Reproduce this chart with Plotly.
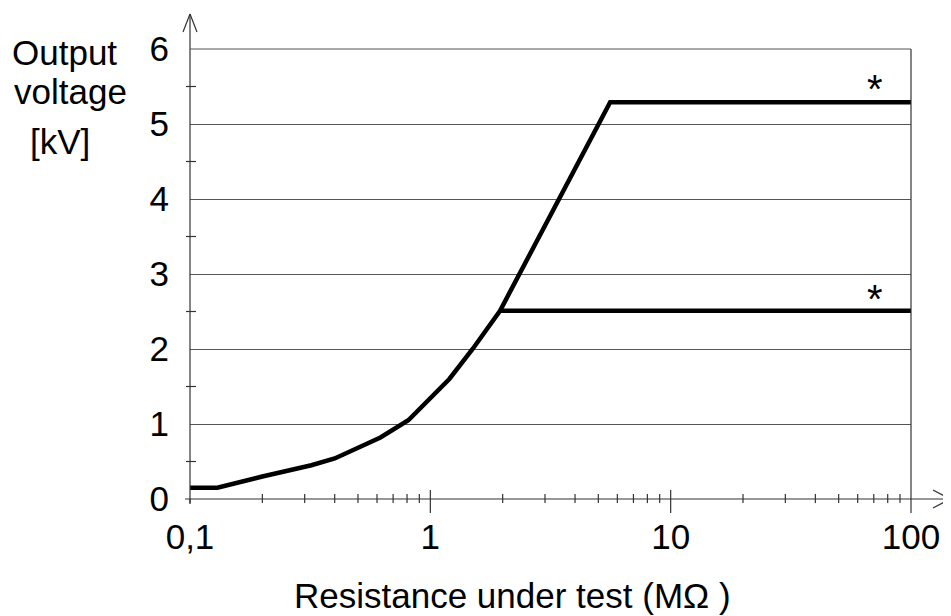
import numpy as np
import plotly.graph_objects as go

# ---- data ----
r_main = [0.1, 0.13, 0.2, 0.32, 0.4, 0.62, 0.81, 1.0, 1.2, 1.5, 1.8, 1.95, 5.6, 100]
v_main = [0.15, 0.15, 0.30, 0.45, 0.54, 0.82, 1.05, 1.35, 1.6, 2.0, 2.35, 2.51, 5.29, 5.29]
r_branch = [1.95, 100]
v_branch = [2.51, 2.51]
star_r = [71, 71]
star_v = [5.47, 2.67]

x_tickvals = [0.1, 1, 10, 100]
x_ticktext = ["0,1", "1", "10", "100"]
y_tickvals = [0, 1, 2, 3, 4, 5, 6]
y_ticktext = ["0", "1", "2", "3", "4", "5", "6"]
y_minor = [0.5, 1.5, 2.5, 3.5, 4.5, 5.5]
x_minor = [m * d for d in (0.1, 1, 10) for m in range(2, 10)]

FONT = "Liberation Sans, Arial, sans-serif"
FS = 35
# page has an 8px body margin; figure sized so the plot lands where the reference has it
W, H = 943, 608
L, R, T, B = 182, 40, 41, 117
PW, PH = W - L - R, H - T - B

# convert page pixel positions (reference picture) to paper coordinates
def px(xp):
    return (xp - 190) / PW

def py(yp):
    return (499 - yp) / PH

fig = go.Figure()
fig.add_trace(go.Scatter(x=r_main, y=v_main, mode="lines",
                         line=dict(color="black", width=4.5), showlegend=False))
fig.add_trace(go.Scatter(x=r_branch, y=v_branch, mode="lines",
                         line=dict(color="black", width=4.5), showlegend=False))

AX = "#333333"
shapes = []
def seg(x0, y0, x1, y1, color=AX, w=1.2):
    shapes.append(dict(type="line", xref="paper", yref="paper",
                       x0=x0, y0=y0, x1=x1, y1=y1,
                       line=dict(color=color, width=w)))

# y axis with arrow
seg(0, py(503), 0, py(14))
seg(px(183), py(32), 0, py(14))
seg(px(197), py(32), 0, py(14))
# x axis with arrow
seg(px(185), 0, px(950), 0)
seg(px(933), py(490), px(950), 0)
seg(px(933), py(508), px(950), 0)
# right border
seg(1, py(513), 1, 1)
# top line
seg(0, 1, 1, 1, color="#555555", w=1)
# x major ticks
for v in x_tickvals[1:3]:
    xp = (np.log10(v) + 1) / 3
    seg(xp, py(490), xp, py(513))
seg(0, 0, 0, py(504))
# x minor ticks
for v in x_minor:
    xp = (np.log10(v) + 1) / 3
    seg(xp, py(494), xp, py(503))
# y minor ticks
for v in y_minor:
    seg(px(186), v / 6, px(196), v / 6)

annotations = []
for v_txt, xc, yc in [("Output", 64, 52), ("voltage", 70, 92), ("[kV]", 60, 141)]:
    annotations.append(dict(text=v_txt, xref="paper", yref="paper",
                            x=px(xc), y=py(yc), xanchor="center", yanchor="middle",
                            showarrow=False, font=dict(family=FONT, size=FS, color="black")))
annotations.append(dict(text="Resistance under test (MΩ )", xref="paper", yref="paper",
                        x=px(512), y=py(595), xanchor="center", yanchor="middle",
                        showarrow=False, font=dict(family=FONT, size=FS, color="black")))
for r, v in zip(star_r, star_v):
    annotations.append(dict(text="*", xref="x", yref="y", x=np.log10(r), y=v,
                            xanchor="center", yanchor="middle", showarrow=False,
                            font=dict(family=FONT, size=40, color="black")))

fig.update_layout(
    width=W, height=H,
    margin=dict(l=L, r=R, t=T, b=B, pad=0),
    paper_bgcolor="white", plot_bgcolor="white",
    font=dict(family=FONT, size=FS, color="black"),
    xaxis=dict(type="log", range=[-1, 2], showgrid=False, zeroline=False,
               showline=False, tickvals=x_tickvals, ticktext=x_ticktext,
               ticks="", ticklabelstandoff=14,
               tickfont=dict(family=FONT, size=FS, color="black")),
    yaxis=dict(range=[0, 6], showgrid=True, gridcolor="#555555", gridwidth=1,
               zeroline=False, showline=False, tickvals=y_tickvals,
               ticktext=y_ticktext, ticks="", ticklabelstandoff=20,
               tickfont=dict(family=FONT, size=FS, color="black")),
    shapes=shapes, annotations=annotations,
)

fig.write_html("out.html")
